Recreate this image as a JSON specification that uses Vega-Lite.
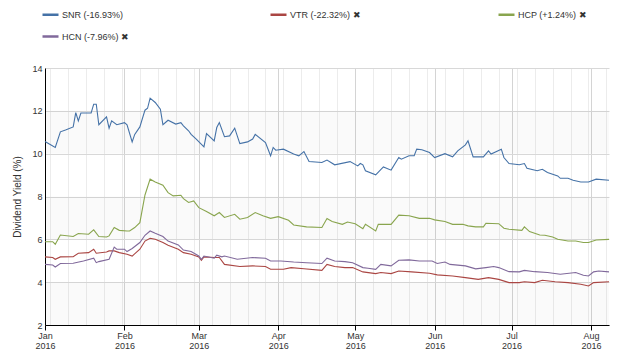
{
  "$schema": "https://vega.github.io/schema/vega-lite/v6.json",
  "width": 564,
  "height": 257,
  "autosize": {"type": "none"},
  "padding": {"left": 45, "top": 68, "right": 31, "bottom": 34},
  "config": {"font": "Liberation Sans", "view": {"stroke": null}, "background": "#ffffff"},
  "datasets": {
    "bands": [{"lo": 10, "hi": 12}, {"lo": 6, "hi": 8}, {"lo": 2, "hi": 4}],
    "yields": [
      {"d":"2016-01-01","s":"SNR","v":10.57},{"d":"2016-01-05","s":"SNR","v":10.29},{"d":"2016-01-07","s":"SNR","v":11.02},{"d":"2016-01-09","s":"SNR","v":11.1},{"d":"2016-01-12","s":"SNR","v":11.25},{"d":"2016-01-13","s":"SNR","v":11.92},{"d":"2016-01-14","s":"SNR","v":11.53},{"d":"2016-01-15","s":"SNR","v":11.9},{"d":"2016-01-19","s":"SNR","v":11.9},{"d":"2016-01-20","s":"SNR","v":12.31},{"d":"2016-01-21","s":"SNR","v":12.31},{"d":"2016-01-22","s":"SNR","v":11.35},{"d":"2016-01-25","s":"SNR","v":11.72},{"d":"2016-01-26","s":"SNR","v":11.19},{"d":"2016-01-27","s":"SNR","v":11.53},{"d":"2016-01-29","s":"SNR","v":11.35},{"d":"2016-02-01","s":"SNR","v":11.45},{"d":"2016-02-02","s":"SNR","v":11.35},{"d":"2016-02-04","s":"SNR","v":10.55},{"d":"2016-02-05","s":"SNR","v":10.9},{"d":"2016-02-07","s":"SNR","v":11.25},{"d":"2016-02-09","s":"SNR","v":12.03},{"d":"2016-02-10","s":"SNR","v":12.12},{"d":"2016-02-11","s":"SNR","v":12.59},{"d":"2016-02-13","s":"SNR","v":12.39},{"d":"2016-02-15","s":"SNR","v":12.08},{"d":"2016-02-16","s":"SNR","v":11.35},{"d":"2016-02-18","s":"SNR","v":11.56},{"d":"2016-02-21","s":"SNR","v":11.38},{"d":"2016-02-23","s":"SNR","v":11.45},{"d":"2016-02-24","s":"SNR","v":11.3},{"d":"2016-02-26","s":"SNR","v":11.07},{"d":"2016-02-27","s":"SNR","v":10.9},{"d":"2016-02-29","s":"SNR","v":10.68},{"d":"2016-03-03","s":"SNR","v":10.32},{"d":"2016-03-04","s":"SNR","v":10.94},{"d":"2016-03-07","s":"SNR","v":10.6},{"d":"2016-03-08","s":"SNR","v":11.22},{"d":"2016-03-09","s":"SNR","v":11.45},{"d":"2016-03-11","s":"SNR","v":10.79},{"d":"2016-03-13","s":"SNR","v":10.83},{"d":"2016-03-15","s":"SNR","v":11.19},{"d":"2016-03-17","s":"SNR","v":10.47},{"d":"2016-03-20","s":"SNR","v":10.55},{"d":"2016-03-22","s":"SNR","v":10.68},{"d":"2016-03-23","s":"SNR","v":10.9},{"d":"2016-03-27","s":"SNR","v":10.52},{"d":"2016-03-29","s":"SNR","v":9.9},{"d":"2016-03-30","s":"SNR","v":10.29},{"d":"2016-03-31","s":"SNR","v":10.16},{"d":"2016-04-03","s":"SNR","v":10.21},{"d":"2016-04-07","s":"SNR","v":9.98},{"d":"2016-04-09","s":"SNR","v":9.9},{"d":"2016-04-11","s":"SNR","v":10.1},{"d":"2016-04-13","s":"SNR","v":9.63},{"d":"2016-04-18","s":"SNR","v":9.59},{"d":"2016-04-20","s":"SNR","v":9.7},{"d":"2016-04-23","s":"SNR","v":9.48},{"d":"2016-04-29","s":"SNR","v":9.63},{"d":"2016-05-02","s":"SNR","v":9.43},{"d":"2016-05-03","s":"SNR","v":9.54},{"d":"2016-05-04","s":"SNR","v":9.48},{"d":"2016-05-05","s":"SNR","v":9.2},{"d":"2016-05-09","s":"SNR","v":9.01},{"d":"2016-05-12","s":"SNR","v":9.38},{"d":"2016-05-15","s":"SNR","v":9.23},{"d":"2016-05-18","s":"SNR","v":9.82},{"d":"2016-05-19","s":"SNR","v":9.74},{"d":"2016-05-22","s":"SNR","v":9.9},{"d":"2016-05-24","s":"SNR","v":9.9},{"d":"2016-05-25","s":"SNR","v":10.21},{"d":"2016-05-27","s":"SNR","v":10.18},{"d":"2016-05-30","s":"SNR","v":10.05},{"d":"2016-06-01","s":"SNR","v":9.82},{"d":"2016-06-05","s":"SNR","v":10.0},{"d":"2016-06-08","s":"SNR","v":9.85},{"d":"2016-06-10","s":"SNR","v":10.13},{"d":"2016-06-13","s":"SNR","v":10.41},{"d":"2016-06-14","s":"SNR","v":10.6},{"d":"2016-06-16","s":"SNR","v":9.85},{"d":"2016-06-20","s":"SNR","v":9.85},{"d":"2016-06-22","s":"SNR","v":10.13},{"d":"2016-06-23","s":"SNR","v":9.98},{"d":"2016-06-27","s":"SNR","v":10.21},{"d":"2016-06-28","s":"SNR","v":9.82},{"d":"2016-06-30","s":"SNR","v":9.54},{"d":"2016-07-04","s":"SNR","v":9.48},{"d":"2016-07-06","s":"SNR","v":9.54},{"d":"2016-07-07","s":"SNR","v":9.32},{"d":"2016-07-11","s":"SNR","v":9.2},{"d":"2016-07-13","s":"SNR","v":9.27},{"d":"2016-07-15","s":"SNR","v":9.12},{"d":"2016-07-19","s":"SNR","v":8.96},{"d":"2016-07-20","s":"SNR","v":8.85},{"d":"2016-07-23","s":"SNR","v":8.85},{"d":"2016-07-25","s":"SNR","v":8.76},{"d":"2016-07-28","s":"SNR","v":8.68},{"d":"2016-07-31","s":"SNR","v":8.68},{"d":"2016-08-03","s":"SNR","v":8.81},{"d":"2016-08-08","s":"SNR","v":8.76},
      {"d":"2016-01-01","s":"VTR","v":5.18},{"d":"2016-01-04","s":"VTR","v":5.15},{"d":"2016-01-05","s":"VTR","v":5.07},{"d":"2016-01-07","s":"VTR","v":5.18},{"d":"2016-01-12","s":"VTR","v":5.19},{"d":"2016-01-14","s":"VTR","v":5.35},{"d":"2016-01-18","s":"VTR","v":5.38},{"d":"2016-01-20","s":"VTR","v":5.54},{"d":"2016-01-21","s":"VTR","v":5.35},{"d":"2016-01-25","s":"VTR","v":5.41},{"d":"2016-01-26","s":"VTR","v":5.46},{"d":"2016-01-28","s":"VTR","v":5.46},{"d":"2016-01-30","s":"VTR","v":5.38},{"d":"2016-02-02","s":"VTR","v":5.3},{"d":"2016-02-04","s":"VTR","v":5.22},{"d":"2016-02-07","s":"VTR","v":5.54},{"d":"2016-02-09","s":"VTR","v":5.92},{"d":"2016-02-11","s":"VTR","v":6.05},{"d":"2016-02-13","s":"VTR","v":6.0},{"d":"2016-02-16","s":"VTR","v":5.85},{"d":"2016-02-18","s":"VTR","v":5.72},{"d":"2016-02-22","s":"VTR","v":5.54},{"d":"2016-02-24","s":"VTR","v":5.38},{"d":"2016-02-27","s":"VTR","v":5.3},{"d":"2016-03-01","s":"VTR","v":5.18},{"d":"2016-03-02","s":"VTR","v":5.02},{"d":"2016-03-03","s":"VTR","v":5.18},{"d":"2016-03-07","s":"VTR","v":5.15},{"d":"2016-03-09","s":"VTR","v":5.15},{"d":"2016-03-11","s":"VTR","v":4.83},{"d":"2016-03-17","s":"VTR","v":4.73},{"d":"2016-03-22","s":"VTR","v":4.76},{"d":"2016-03-27","s":"VTR","v":4.73},{"d":"2016-03-29","s":"VTR","v":4.6},{"d":"2016-04-03","s":"VTR","v":4.6},{"d":"2016-04-06","s":"VTR","v":4.68},{"d":"2016-04-11","s":"VTR","v":4.63},{"d":"2016-04-18","s":"VTR","v":4.55},{"d":"2016-04-20","s":"VTR","v":4.83},{"d":"2016-04-23","s":"VTR","v":4.73},{"d":"2016-04-27","s":"VTR","v":4.68},{"d":"2016-04-30","s":"VTR","v":4.68},{"d":"2016-05-04","s":"VTR","v":4.48},{"d":"2016-05-09","s":"VTR","v":4.4},{"d":"2016-05-11","s":"VTR","v":4.45},{"d":"2016-05-15","s":"VTR","v":4.4},{"d":"2016-05-18","s":"VTR","v":4.52},{"d":"2016-05-23","s":"VTR","v":4.48},{"d":"2016-05-30","s":"VTR","v":4.42},{"d":"2016-06-02","s":"VTR","v":4.34},{"d":"2016-06-08","s":"VTR","v":4.29},{"d":"2016-06-13","s":"VTR","v":4.21},{"d":"2016-06-18","s":"VTR","v":4.13},{"d":"2016-06-22","s":"VTR","v":4.21},{"d":"2016-06-26","s":"VTR","v":4.13},{"d":"2016-06-30","s":"VTR","v":3.98},{"d":"2016-07-04","s":"VTR","v":3.98},{"d":"2016-07-06","s":"VTR","v":4.02},{"d":"2016-07-10","s":"VTR","v":3.98},{"d":"2016-07-13","s":"VTR","v":4.09},{"d":"2016-07-18","s":"VTR","v":4.02},{"d":"2016-07-23","s":"VTR","v":3.98},{"d":"2016-07-28","s":"VTR","v":3.9},{"d":"2016-07-31","s":"VTR","v":3.82},{"d":"2016-08-02","s":"VTR","v":3.98},{"d":"2016-08-08","s":"VTR","v":4.02},
      {"d":"2016-01-01","s":"HCP","v":5.89},{"d":"2016-01-04","s":"HCP","v":5.89},{"d":"2016-01-05","s":"HCP","v":5.77},{"d":"2016-01-07","s":"HCP","v":6.2},{"d":"2016-01-12","s":"HCP","v":6.13},{"d":"2016-01-14","s":"HCP","v":6.27},{"d":"2016-01-18","s":"HCP","v":6.24},{"d":"2016-01-20","s":"HCP","v":6.44},{"d":"2016-01-22","s":"HCP","v":6.13},{"d":"2016-01-25","s":"HCP","v":6.11},{"d":"2016-01-26","s":"HCP","v":6.16},{"d":"2016-01-28","s":"HCP","v":6.55},{"d":"2016-01-30","s":"HCP","v":6.42},{"d":"2016-02-02","s":"HCP","v":6.39},{"d":"2016-02-03","s":"HCP","v":6.39},{"d":"2016-02-05","s":"HCP","v":6.55},{"d":"2016-02-07","s":"HCP","v":6.78},{"d":"2016-02-09","s":"HCP","v":8.07},{"d":"2016-02-11","s":"HCP","v":8.81},{"d":"2016-02-13","s":"HCP","v":8.68},{"d":"2016-02-16","s":"HCP","v":8.53},{"d":"2016-02-18","s":"HCP","v":8.18},{"d":"2016-02-20","s":"HCP","v":8.03},{"d":"2016-02-23","s":"HCP","v":8.06},{"d":"2016-02-24","s":"HCP","v":7.9},{"d":"2016-02-26","s":"HCP","v":7.72},{"d":"2016-02-28","s":"HCP","v":7.79},{"d":"2016-03-01","s":"HCP","v":7.48},{"d":"2016-03-04","s":"HCP","v":7.3},{"d":"2016-03-07","s":"HCP","v":7.1},{"d":"2016-03-09","s":"HCP","v":7.25},{"d":"2016-03-11","s":"HCP","v":7.02},{"d":"2016-03-15","s":"HCP","v":7.17},{"d":"2016-03-17","s":"HCP","v":6.94},{"d":"2016-03-20","s":"HCP","v":7.02},{"d":"2016-03-23","s":"HCP","v":7.25},{"d":"2016-03-26","s":"HCP","v":7.1},{"d":"2016-03-29","s":"HCP","v":6.98},{"d":"2016-04-01","s":"HCP","v":7.06},{"d":"2016-04-05","s":"HCP","v":6.89},{"d":"2016-04-07","s":"HCP","v":6.67},{"d":"2016-04-12","s":"HCP","v":6.58},{"d":"2016-04-18","s":"HCP","v":6.55},{"d":"2016-04-20","s":"HCP","v":6.97},{"d":"2016-04-22","s":"HCP","v":6.83},{"d":"2016-04-26","s":"HCP","v":6.7},{"d":"2016-04-28","s":"HCP","v":6.81},{"d":"2016-05-01","s":"HCP","v":6.73},{"d":"2016-05-04","s":"HCP","v":6.5},{"d":"2016-05-05","s":"HCP","v":6.7},{"d":"2016-05-09","s":"HCP","v":6.39},{"d":"2016-05-10","s":"HCP","v":6.7},{"d":"2016-05-15","s":"HCP","v":6.7},{"d":"2016-05-18","s":"HCP","v":7.13},{"d":"2016-05-22","s":"HCP","v":7.1},{"d":"2016-05-26","s":"HCP","v":6.98},{"d":"2016-05-30","s":"HCP","v":6.98},{"d":"2016-06-01","s":"HCP","v":6.91},{"d":"2016-06-05","s":"HCP","v":6.83},{"d":"2016-06-08","s":"HCP","v":6.7},{"d":"2016-06-12","s":"HCP","v":6.7},{"d":"2016-06-14","s":"HCP","v":6.63},{"d":"2016-06-17","s":"HCP","v":6.58},{"d":"2016-06-20","s":"HCP","v":6.58},{"d":"2016-06-21","s":"HCP","v":6.75},{"d":"2016-06-26","s":"HCP","v":6.73},{"d":"2016-06-28","s":"HCP","v":6.52},{"d":"2016-06-30","s":"HCP","v":6.47},{"d":"2016-07-05","s":"HCP","v":6.42},{"d":"2016-07-06","s":"HCP","v":6.58},{"d":"2016-07-08","s":"HCP","v":6.36},{"d":"2016-07-12","s":"HCP","v":6.2},{"d":"2016-07-14","s":"HCP","v":6.19},{"d":"2016-07-17","s":"HCP","v":6.11},{"d":"2016-07-19","s":"HCP","v":6.0},{"d":"2016-07-23","s":"HCP","v":5.92},{"d":"2016-07-26","s":"HCP","v":5.92},{"d":"2016-07-29","s":"HCP","v":5.85},{"d":"2016-07-31","s":"HCP","v":5.85},{"d":"2016-08-03","s":"HCP","v":5.97},{"d":"2016-08-08","s":"HCP","v":6.0},
      {"d":"2016-01-01","s":"HCN","v":4.83},{"d":"2016-01-04","s":"HCN","v":4.8},{"d":"2016-01-05","s":"HCN","v":4.71},{"d":"2016-01-07","s":"HCN","v":4.87},{"d":"2016-01-12","s":"HCN","v":4.88},{"d":"2016-01-16","s":"HCN","v":4.99},{"d":"2016-01-20","s":"HCN","v":5.12},{"d":"2016-01-21","s":"HCN","v":4.91},{"d":"2016-01-22","s":"HCN","v":4.96},{"d":"2016-01-26","s":"HCN","v":5.07},{"d":"2016-01-28","s":"HCN","v":5.64},{"d":"2016-01-29","s":"HCN","v":5.54},{"d":"2016-02-01","s":"HCN","v":5.54},{"d":"2016-02-02","s":"HCN","v":5.43},{"d":"2016-02-04","s":"HCN","v":5.57},{"d":"2016-02-07","s":"HCN","v":5.85},{"d":"2016-02-09","s":"HCN","v":6.19},{"d":"2016-02-11","s":"HCN","v":6.39},{"d":"2016-02-13","s":"HCN","v":6.28},{"d":"2016-02-16","s":"HCN","v":6.13},{"d":"2016-02-18","s":"HCN","v":5.92},{"d":"2016-02-22","s":"HCN","v":5.74},{"d":"2016-02-24","s":"HCN","v":5.5},{"d":"2016-02-27","s":"HCN","v":5.43},{"d":"2016-03-01","s":"HCN","v":5.22},{"d":"2016-03-02","s":"HCN","v":5.07},{"d":"2016-03-03","s":"HCN","v":5.22},{"d":"2016-03-07","s":"HCN","v":5.12},{"d":"2016-03-08","s":"HCN","v":5.26},{"d":"2016-03-10","s":"HCN","v":5.18},{"d":"2016-03-11","s":"HCN","v":5.22},{"d":"2016-03-16","s":"HCN","v":5.07},{"d":"2016-03-22","s":"HCN","v":5.15},{"d":"2016-03-27","s":"HCN","v":5.12},{"d":"2016-03-29","s":"HCN","v":4.99},{"d":"2016-04-02","s":"HCN","v":4.99},{"d":"2016-04-07","s":"HCN","v":4.94},{"d":"2016-04-12","s":"HCN","v":4.91},{"d":"2016-04-18","s":"HCN","v":4.87},{"d":"2016-04-20","s":"HCN","v":5.12},{"d":"2016-04-23","s":"HCN","v":4.99},{"d":"2016-04-27","s":"HCN","v":4.96},{"d":"2016-04-30","s":"HCN","v":4.91},{"d":"2016-05-04","s":"HCN","v":4.68},{"d":"2016-05-06","s":"HCN","v":4.65},{"d":"2016-05-09","s":"HCN","v":4.6},{"d":"2016-05-11","s":"HCN","v":4.83},{"d":"2016-05-15","s":"HCN","v":4.76},{"d":"2016-05-18","s":"HCN","v":5.02},{"d":"2016-05-22","s":"HCN","v":5.04},{"d":"2016-05-26","s":"HCN","v":4.99},{"d":"2016-05-31","s":"HCN","v":4.99},{"d":"2016-06-02","s":"HCN","v":4.87},{"d":"2016-06-05","s":"HCN","v":4.94},{"d":"2016-06-07","s":"HCN","v":4.83},{"d":"2016-06-13","s":"HCN","v":4.76},{"d":"2016-06-17","s":"HCN","v":4.62},{"d":"2016-06-21","s":"HCN","v":4.68},{"d":"2016-06-24","s":"HCN","v":4.73},{"d":"2016-06-26","s":"HCN","v":4.68},{"d":"2016-06-30","s":"HCN","v":4.49},{"d":"2016-07-04","s":"HCN","v":4.48},{"d":"2016-07-06","s":"HCN","v":4.55},{"d":"2016-07-10","s":"HCN","v":4.49},{"d":"2016-07-15","s":"HCN","v":4.45},{"d":"2016-07-20","s":"HCN","v":4.37},{"d":"2016-07-26","s":"HCN","v":4.45},{"d":"2016-07-29","s":"HCN","v":4.32},{"d":"2016-07-31","s":"HCN","v":4.29},{"d":"2016-08-02","s":"HCN","v":4.48},{"d":"2016-08-04","s":"HCN","v":4.52},{"d":"2016-08-08","s":"HCN","v":4.48}
    ]
  },
  "layer": [
    {
      "data": {"name": "bands"},
      "mark": {"type": "rect", "fill": "#000000", "fillOpacity": 0.02},
      "encoding": {
        "y": {"field": "lo", "type": "quantitative", "axis": null},
        "y2": {"field": "hi"}
      }
    },
    {
      "data": {"name": "yields"},
      "mark": {"type": "line", "strokeOpacity": 0},
      "encoding": {
        "x": {"field": "d", "type": "temporal",
              "axis": {"orient": "top", "tickCount": {"interval": "week", "step": 1}, "grid": true, "gridColor": "#ececec", "gridWidth": 1, "labels": false, "ticks": false, "domain": false, "title": null}},
        "y": {"field": "v", "type": "quantitative", "axis": null},
        "detail": {"field": "s"}
      }
    },
    {
      "data": {"name": "yields"},
      "mark": {"type": "line", "strokeWidth": 1.1},
      "encoding": {
        "x": {"field": "d", "type": "temporal",
              "scale": {"type": "utc", "domain": [{"year": 2016, "month": 1, "date": 1, "utc": true}, {"year": 2016, "month": 8, "date": 8, "utc": true}]},
              "axis": {"orient": "bottom", "tickCount": {"interval": "month", "step": 1},
                       "labelExpr": "[utcFormat(datum.value, '%b'), utcFormat(datum.value, '%Y')]",
                       "grid": true, "gridColor": "#d4d4d4", "domainColor": "#000000", "tickColor": "#000000", "tickSize": 5,
                       "labelFontSize": 9, "labelColor": "#333333", "labelPadding": 1, "labelLineHeight": 10,
                       "labelFlush": false, "labelOverlap": false, "title": null}},
        "y": {"field": "v", "type": "quantitative",
              "scale": {"domain": [2, 14], "nice": false, "zero": false},
              "axis": {"values": [2, 4, 6, 8, 10, 12, 14], "grid": true, "gridColor": "#d8d8d8", "ticks": false,
                       "domainColor": "#000000", "labelFontSize": 9, "labelColor": "#333333", "labelPadding": 3,
                       "title": "Dividend Yield (%)", "titleFontSize": 10, "titleFontWeight": "normal", "titleColor": "#333333", "titlePadding": 9}},
        "color": {"field": "s", "type": "nominal",
                  "scale": {"domain": ["SNR", "VTR", "HCP", "HCN"], "range": ["#4572A7", "#AA4643", "#89A54E", "#80699B"]},
                  "legend": {"orient": "none", "legendX": -4, "legendY": -63, "direction": "horizontal", "columns": 3,
                             "gridAlign": "all", "columnPadding": 128, "rowPadding": 7, "padding": 0,
                             "symbolType": "stroke", "symbolStrokeWidth": 2.5, "symbolSize": 256,
                             "labelFontSize": 9, "labelColor": "#333333", "labelOffset": 2, "title": null,
                             "labelExpr": "datum.label == 'SNR' ? 'SNR (-16.93%)' : datum.label == 'VTR' ? 'VTR (-22.32%)  ✖' : datum.label == 'HCP' ? 'HCP (+1.24%)  ✖' : 'HCN (-7.96%)    ✖'"}}
      }
    }
  ],
  "resolve": {"axis": {"x": "independent", "y": "independent"}}
}
